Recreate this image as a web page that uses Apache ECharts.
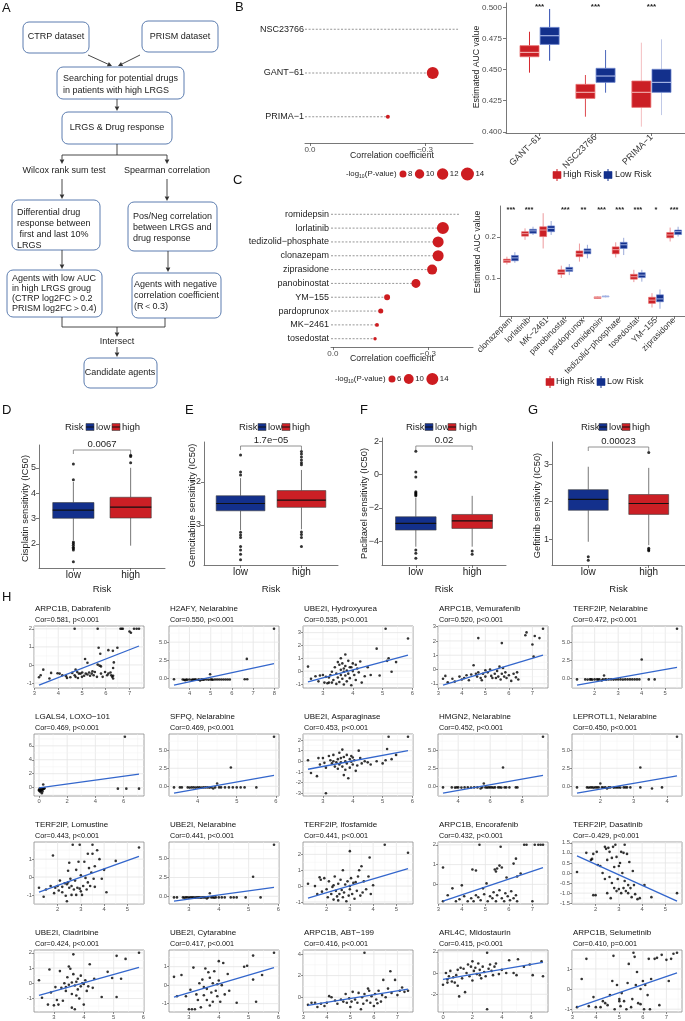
<!DOCTYPE html>
<html><head><meta charset="utf-8"><title>Drug sensitivity figure</title>
<script src="https://cdn.jsdelivr.net/npm/echarts@6/dist/echarts.min.js"></script>
<style>html,body{margin:0;padding:0;background:#fff;}#chart{width:685px;height:1021px;}</style>
</head><body><div id="chart"></div>
<script>
// ================= DATA =================
// Panel B
const bDotDrugs = ['NSC23766', 'GANT−61', 'PRIMA−1'];
const bDotCor = [-0.386, -0.320, -0.203];
const bDotLogP = [null, 12.75, 6.35];
const bSizeLegend = [8, 10, 12, 14];
const bBoxDrugs = ['GANT−61', 'NSC23766', 'PRIMA−1'];
const bHighRisk = [[0.4475,0.4603,0.4638,0.4692,0.4804],[0.4121,0.4268,0.4317,0.4381,0.4456],[0.4041,0.4196,0.4317,0.4408,0.4716]];
const bLowRisk  = [[0.4571,0.4702,0.4772,0.4839,0.4987],[0.4314,0.4397,0.4448,0.4510,0.4657],[0.4134,0.4317,0.4397,0.4502,0.4743]];
const bSig = ['***', '***', '***'];
const bYTicks = [0.400, 0.425, 0.450, 0.475, 0.500];
const bWhiskerAlpha = [1, 0.85, 0.3];

// Panel C
const cDotDrugs = ['romidepsin','lorlatinib','tedizolid−phosphate','clonazepam','ziprasidone','panobinostat','YM−155','pardoprunox','MK−2461','tosedostat'];
const cDotCor = [-0.401,-0.347,-0.332,-0.332,-0.313,-0.262,-0.171,-0.151,-0.139,-0.133];
const cDotLogP = [null, 14.0, 12.1, 12.1, 10.3, 8.7, 4.9, 4.0, 3.2, 2.85];
const cSizeLegend = [6, 10, 14];
const cBoxDrugs = ['clonazepam','lorlatinib','MK−2461','panobinostat','pardoprunox','romidepsin','tedizolid−phosphate','tosedostat','YM−155','ziprasidone'];
const cHighRisk = [[0.133,0.138,0.142,0.146,0.152],[0.193,0.202,0.208,0.213,0.221],[0.172,0.201,0.217,0.225,0.258],[0.100,0.109,0.114,0.120,0.130],[0.140,0.152,0.159,0.166,0.184],[0.049,0.050,0.052,0.054,0.055],[0.150,0.159,0.169,0.176,0.187],[0.090,0.097,0.103,0.109,0.120],[0.028,0.038,0.046,0.053,0.063],[0.189,0.198,0.205,0.211,0.223]];
const cLowRisk  = [[0.137,0.142,0.149,0.155,0.163],[0.205,0.209,0.215,0.219,0.225],[0.205,0.213,0.221,0.227,0.239],[0.107,0.116,0.120,0.126,0.134],[0.148,0.159,0.166,0.171,0.181],[0.053,0.054,0.055,0.056,0.057],[0.156,0.172,0.181,0.187,0.198],[0.091,0.101,0.107,0.113,0.120],[0.025,0.042,0.049,0.059,0.072],[0.201,0.206,0.213,0.217,0.225]];
const cSig = ['***','***','','***','**','***','***','***','*','***'];
const cYTicks = [0.1, 0.2];

// Panels D-G
const riskGroups = ['low', 'high'];
const dfgTitles = ['Cisplatin sensitivity (IC50)','Gemcitabine sensitivity (IC50)','Paclitaxel sensitivity (IC50)','Gefitinib sensitivity (IC50)'];
const cisLow = [2.15,3.01,3.33,3.63,4.44], cisHigh = [1.93,3.02,3.45,3.84,5.00];
const cisLowOut = [5.15,4.53,2.08,2.02,1.95,1.87,1.82,1.76,1.30], cisHighOut = [5.50,5.45,5.20];
const gemLow = [-3.12,-2.67,-2.50,-2.32,-1.91], gemHigh = [-3.10,-2.59,-2.42,-2.20,-1.72];
const gemLowOut = [-1.37,-1.77,-1.84,-3.17,-3.23,-3.29,-3.50,-3.58,-3.68,-3.81], gemHighOut = [-1.29,-1.35,-1.42,-1.49,-1.55,-1.60,-3.16,-3.22,-3.29,-3.50];
const pacLow = [-4.34,-3.34,-2.94,-2.54,-1.40], pacHigh = [-4.34,-3.24,-2.78,-2.40,-1.28];
const pacLowOut = [1.40,0.16,-0.14,-1.04,-1.10,-1.16,-1.22,-1.28,-4.54,-4.74,-5.04], pacHighOut = [-4.60,-4.80];
const gefLow = [0.93,1.77,2.06,2.32,2.93], gefHigh = [0.84,1.66,1.95,2.19,2.90];
const gefLowOut = [0.53,0.44], gefHighOut = [3.31,0.76,0.72,0.69];
const dfgPValues = ['0.0067', '1.7e−05', '0.02', '0.00023'];
const dfgYRange = [[1.05,5.9],[-3.93,-1.07],[-5.44,2.2],[0.31,3.59]];
const dfgYTicks = [[2,3,4,5],[-3,-2],[-4,-2,0,2],[1,2,3]];

// Panel H
const hTitles = ['ARPC1B, Dabrafenib','H2AFY, Nelarabine','UBE2I, Hydroxyurea','ARPC1B, Vemurafenib','TERF2IP, Nelarabine',
  'LGALS4, LOXO−101','SFPQ, Nelarabine','UBE2I, Asparaginase','HMGN2, Nelarabine','LEPROTL1, Nelarabine',
  'TERF2IP, Lomustine','UBE2I, Nelarabine','TERF2IP, Ifosfamide','ARPC1B, Encorafenib','TERF2IP, Dasatinib',
  'UBE2I, Cladribine','UBE2I, Cytarabine','ARPC1B, ABT−199','ARL4C, Midostaurin','ARPC1B, Selumetinib'];
const hCors = ['Cor=0.581, p<0.001','Cor=0.550, p<0.001','Cor=0.535, p<0.001','Cor=0.520, p<0.001','Cor=0.472, p<0.001',
  'Cor=0.469, p<0.001','Cor=0.469, p<0.001','Cor=0.453, p<0.001','Cor=0.452, p<0.001','Cor=0.450, p<0.001',
  'Cor=0.443, p<0.001','Cor=0.441, p<0.001','Cor=0.441, p<0.001','Cor=0.432, p<0.001','Cor=-0.429, p<0.001',
  'Cor=0.424, p<0.001','Cor=0.417, p<0.001','Cor=0.416, p<0.001','Cor=0.415, p<0.001','Cor=0.410, p=0.001'];
// regression line end points [x0, y0, x1, y1]
const hLines = [[3.19,-1.12,7.4,1.05],[3.27,-0.94,7.98,2.03],[2.5,-0.85,5.85,1.25],[3.2,-1.1,7.45,1.0],[1.25,-0.95,5.5,1.5],
  [0,-0.05,7.1,1.95],[3.4,-0.95,5.95,1.5],[2.5,-0.75,5.85,1.0],[3.05,-0.95,9.3,1.5],[1.3,-0.95,4.3,1.45],
  [1.2,-0.85,5.5,1.15],[2.5,-0.65,5.85,1.2],[1.2,-0.75,5.5,1.1],[3.2,-0.85,7.45,0.85],[1.2,0.85,5.5,-1.4],
  [2.5,-0.8,5.85,1.05],[2.5,-0.65,5.85,0.95],[3.2,-0.75,7.45,0.75],[0,-0.6,6.8,1.0],[3.2,-0.9,7.45,0.8]];
const hXTicks = [[3,4,5,6,7],[4,5,6,7,8],[3,4,5,6],[3,4,5,6,7],[2,3,4,5],
  [0,2,4,6],[4,5,6],[3,4,5,6],[4,6,8],[2,3,4],
  [2,3,4,5],[3,4,5,6],[2,3,4,5],[3,4,5,6,7],[2,3,4,5],
  [3,4,5,6],[3,4,5,6],[3,4,5,6,7],[0,2,4,6],[3,4,5,6,7]];
const hYTicks = [[-1,0,1,2],[0,2.5,5],[-1,0,1,2,3],[-1,0,1,2,3],[0,2.5,5],
  [0,2,4,6],[0,2.5,5],[-3,-2,-1,0,1,2],[0,2.5,5],[0,2.5,5],
  [-1,0,1,2],[0,2.5,5],[-1,0,1,2],[-1,0,1,2],[-1.5,-1,-0.5,0,0.5,1,1.5],
  [-1,0,1,2],[-1,0,1],[0,2,4],[-2,0,2],[-1,0,1]];

const p01 = [[4.69,2],[5.66,2],[6.62,2],[6.67,2],[6.72,2],[7.0,1.85],[7.06,1.78],[7.19,2],[7.3,2],[7.4,2],
 [5.7,0.95],[5.77,0.62],[6.11,0.82],[6.3,0.78],[6.49,0.95],[5.13,0.33],[5.23,0.12],[5.66,0.02],[5.74,-0.04],[5.8,-0.08],[6.34,0.14],[6.31,-0.17],[6.23,-0.57],
 [3.19,-0.68],[3.26,-0.57],[3.37,-0.26],[3.63,-0.75],[3.7,-0.44],[3.97,-0.46],[4.06,-0.48],[4.17,-0.57],[4.33,-0.62],[4.51,-0.68],[4.59,-0.44],[4.69,-0.57],[4.73,-0.26],[4.8,-0.39],[4.87,-0.48],[4.94,-0.48],[5.0,-0.66],[5.09,-0.6],[5.16,-0.48],[5.23,-0.53],[5.3,-0.42],[5.34,-0.6],[5.41,-0.48],[5.44,-0.35],[5.49,-0.57],[5.54,-0.39],[5.63,-0.66],[5.8,-0.48],[5.87,-0.66],[5.97,-0.39],[6.06,-0.57],[6.11,-0.48],[6.2,-0.42],[6.27,-0.66],[6.31,-0.75],[6.31,-0.6],[4.73,-0.66],[4.83,-0.72],[4.37,-0.72],[5.01,-0.42]];
const p02 = [[3.27,-0.12],[3.68,-0.15],[3.75,-0.18],[3.8,-0.25],[3.85,-0.15],[3.9,-0.18],[4.0,-0.15],[4.1,-0.22],[4.15,-0.15],[4.2,-0.18],[4.25,-0.15],[4.3,-0.15],[4.4,-0.18],[4.45,-0.15],[4.5,-0.28],[4.55,-0.15],[4.6,-0.15],[4.65,-0.18],[4.7,-0.15],[4.8,-0.15],[4.9,-0.18],[4.97,0.57],[5.0,-0.15],[5.05,-0.15],[5.1,-0.18],[5.2,-0.15],[5.3,-0.15],[5.4,-0.15],[5.5,-0.15],[5.6,-0.15],[5.7,-0.15],[5.8,-0.15],[5.9,-0.15],[6.6,-0.12],[6.72,-0.12],[6.7,2.69],[7.98,6.84]];
const p03 = [[2.5,0.35],[2.6,-0.6],[2.75,-0.4],[2.85,-0.8],[2.9,-0.35],[3.0,-0.3],[3.05,-0.9],[3.1,-0.45],[3.15,-0.95],[3.2,-0.5],[3.25,-0.3],[3.3,-0.05],[3.3,-0.9],[3.35,-0.7],[3.4,0.3],[3.45,-0.2],[3.45,-1.0],[3.5,0.7],[3.5,-0.5],[3.55,0.5],[3.55,-0.85],[3.6,1.0],[3.6,0.1],[3.6,-0.3],[3.65,0.6],[3.65,-0.6],[3.7,0.2],[3.7,-0.05],[3.7,-1.05],[3.75,1.3],[3.75,0.4],[3.75,-0.35],[3.8,0.05],[3.8,-0.8],[3.85,0.8],[3.85,-0.2],[3.9,0.3],[3.9,-0.55],[3.95,-1.1],[4.0,0.6],[4.0,0.0],[4.05,-0.3],[4.1,0.5],[4.1,-0.7],[4.15,0.2],[4.2,-0.1],[4.25,0.75],[4.3,-0.9],[4.4,-0.4],[4.5,0.3],[4.6,-0.3],[4.8,1.75],[4.9,-0.35],[5.1,3.3],[5.15,0.8],[5.2,1.0],[5.3,-0.05],[5.45,0.7],[5.85,2.55],[3.2,-0.9],[3.95,0.3]];
const p04 = [[6.7,2.4],[6.75,2.6],[7.0,1.75],[7.1,2.35],[7.3,2.2],[7.45,2.85],[7.05,0.9],[4.7,2.2],[5.7,1.85],[3.2,-0.65],[3.3,-0.45],[3.4,-0.9],[3.6,-0.65],[3.7,-0.85],[3.9,-0.5],[4.0,-0.7],[4.1,-0.6],[4.2,-0.4],[4.3,-0.75],[4.5,0.3],[4.6,-0.3],[4.65,-0.5],[4.7,-0.2],[4.8,-0.6],[4.9,-0.3],[5.0,-0.5],[5.1,-0.2],[5.2,0.0],[5.25,-0.45],[5.3,-0.6],[5.4,-0.3],[5.5,-0.1],[5.55,-0.5],[5.6,0.2],[5.65,-0.7],[5.7,-0.3],[5.8,-0.5],[5.85,-0.2],[5.9,-0.6],[6.0,-0.4],[6.1,-0.8],[6.2,-0.3],[6.3,-0.55],[6.4,-0.7],[5.0,-0.05],[4.4,-0.35],[5.75,0.1],[6.35,-0.2],[4.85,-0.75],[5.45,-0.6]];
const p05 = [[1.25,-0.15],[1.6,-0.15],[1.7,-0.18],[1.8,-0.15],[1.85,-0.15],[1.9,-0.18],[2.0,-0.15],[2.1,-0.15],[2.15,-0.18],[2.2,-0.15],[2.3,-0.3],[2.35,-0.15],[2.4,0.4],[2.45,-0.15],[2.5,-0.18],[2.6,-0.15],[2.7,-0.15],[2.8,-0.18],[2.9,-0.15],[3.0,-0.15],[3.1,-0.15],[3.2,-0.18],[3.3,-0.15],[3.4,-0.15],[3.5,-0.15],[3.6,-0.15],[3.7,-0.15],[3.8,-0.15],[3.9,-0.15],[4.0,2.6],[4.3,-0.15],[4.55,-0.15],[5.5,6.85]];
const p06 = [[0.0,-0.3],[0.05,-0.5],[0.1,-0.2],[0.1,-0.6],[0.15,-0.4],[0.2,-0.8],[0.2,-0.25],[0.25,-0.3],[0.3,0.45],[0.3,-0.2],[0.35,-0.15],[0.4,-0.1],[0.0,-0.4],[0.05,-0.15],[0.15,-0.3],[0.25,-0.55],[5.6,-0.15],[6.1,7.3],[6.2,-0.15],[7.1,-0.15]];
const p07 = [[3.4,-0.15],[3.55,-0.15],[3.6,-0.15],[3.75,-0.15],[3.8,-0.18],[3.85,-0.15],[3.9,-0.15],[3.95,-0.18],[4.0,-0.15],[4.05,-0.15],[4.1,-0.18],[4.15,-0.15],[4.2,-0.15],[4.25,-0.15],[4.3,-0.18],[4.35,-0.15],[4.4,-0.3],[4.45,-0.15],[4.5,0.4],[4.55,-0.15],[4.6,-0.15],[4.7,-0.15],[4.8,-0.15],[4.85,2.6],[4.9,-0.15],[5.0,-0.15],[5.1,-0.15],[5.2,-0.15],[5.5,-0.15],[5.95,6.85]];
const p08 = [[2.5,0.1],[2.6,-1.1],[2.8,-1.4],[2.85,0.3],[2.9,-0.3],[3.0,0.3],[3.05,-0.15],[3.1,-0.6],[3.1,-3.0],[3.2,0.5],[3.25,0.1],[3.3,-0.2],[3.35,0.6],[3.4,-0.5],[3.45,-0.1],[3.5,0.2],[3.5,-0.7],[3.55,0.8],[3.55,-0.3],[3.6,0.3],[3.6,-0.1],[3.65,1.1],[3.65,-0.5],[3.7,0.4],[3.7,-1.3],[3.75,0.0],[3.75,-0.8],[3.8,0.6],[3.8,-0.2],[3.85,-1.6],[3.9,0.2],[3.9,-0.6],[3.95,0.5],[4.0,-0.3],[4.05,0.1],[4.1,-0.9],[4.15,-0.4],[4.2,1.0],[4.25,0.3],[4.3,-0.2],[4.4,0.0],[4.5,-0.1],[4.6,-0.3],[4.8,0.0],[5.0,-0.2],[5.1,0.1],[5.15,1.15],[5.2,2.3],[5.3,0.2],[5.45,0.6],[5.85,2.3],[3.35,0.0],[3.95,-0.05],[4.0,0.35]];
const p09 = [[3.05,-0.15],[3.6,-0.15],[3.8,-0.18],[3.9,-0.15],[4.0,-0.15],[4.2,-0.18],[4.4,-0.15],[4.6,-0.15],[4.8,-0.18],[5.0,-0.15],[5.2,-0.15],[5.4,-0.3],[5.5,-0.15],[5.6,0.4],[5.7,-0.15],[5.8,-0.18],[5.9,-0.15],[6.0,-0.15],[6.1,-0.15],[6.2,-0.18],[6.3,-0.15],[6.5,-0.15],[6.6,-0.15],[6.7,-0.18],[6.8,2.6],[6.9,-0.15],[7.0,-0.15],[7.2,-0.15],[7.6,-0.15],[7.7,-0.15],[9.3,6.85]];
const p10 = [[1.3,-0.15],[1.6,-0.15],[1.65,-0.18],[1.7,-0.15],[1.75,-0.15],[1.8,-0.18],[1.85,-0.15],[1.9,-0.15],[1.95,-0.15],[2.0,0.4],[2.05,-0.15],[2.1,-0.18],[2.15,-0.15],[2.2,-0.3],[2.25,-0.15],[2.3,-0.15],[2.4,-0.18],[2.45,-0.15],[2.5,-0.15],[2.55,-0.15],[2.6,-0.18],[2.7,-0.15],[2.75,-0.15],[2.8,-0.15],[2.9,-0.15],[3.2,2.6],[3.2,-0.15],[3.55,-0.3],[3.85,-0.15],[4.3,6.85]];
const p11 = [[1.2,-0.6],[1.4,-1.1],[1.5,-0.7],[1.7,-0.5],[1.8,1.2],[1.85,-0.9],[1.9,-0.6],[2.0,-0.5],[2.05,-0.75],[2.1,-0.2],[2.2,-0.55],[2.3,-0.35],[2.35,-1.05],[2.4,-0.4],[2.4,-1.35],[2.45,-0.3],[2.45,0.35],[2.5,0.8],[2.5,-0.6],[2.55,-0.1],[2.6,-0.5],[2.6,-1.0],[2.65,1.8],[2.7,-0.7],[2.75,-0.2],[2.8,0.4],[2.8,-1.0],[2.85,-0.6],[2.9,0.85],[2.95,-0.65],[2.95,1.8],[3.0,-0.8],[3.0,0.1],[3.05,-1.0],[3.1,-0.5],[3.15,0.85],[3.2,-0.05],[3.25,-0.7],[3.3,1.3],[3.3,-0.3],[3.35,0.5],[3.4,-0.5],[3.45,0.25],[3.5,1.8],[3.55,-0.1],[3.6,0.6],[3.6,-0.55],[3.7,1.5],[3.8,1.0],[3.9,-0.1],[4.0,0.4],[4.1,-0.85],[4.5,0.9],[5.5,1.65],[2.2,-0.85],[3.5,1.3]];
const p12 = [[2.5,-0.15],[2.6,-0.15],[2.8,-0.15],[2.85,-0.18],[2.9,-0.15],[2.95,-0.15],[3.0,-0.18],[3.05,-0.15],[3.1,-0.15],[3.15,-0.15],[3.2,-0.18],[3.25,-0.15],[3.3,-0.15],[3.35,-0.15],[3.4,-0.18],[3.45,-0.15],[3.5,-0.15],[3.55,-0.15],[3.6,-0.3],[3.65,-0.15],[3.7,0.4],[3.75,-0.15],[3.8,-0.15],[3.85,-0.18],[3.9,-0.15],[4.0,-0.15],[4.1,-0.15],[4.2,-0.15],[4.4,-0.15],[4.5,-0.15],[4.6,-0.15],[4.9,-0.15],[5.15,2.6],[5.4,-0.15],[5.85,6.85]];
const p13 = [[1.2,0.15],[1.5,0.0],[1.6,-0.5],[1.7,0.55],[1.75,0.4],[1.8,-0.35],[1.9,0.5],[2.0,-0.2],[2.05,-0.7],[2.1,0.3],[2.2,-0.5],[2.25,-0.05],[2.3,-0.85],[2.35,0.6],[2.4,-0.3],[2.45,-0.65],[2.5,0.15],[2.5,-0.9],[2.55,-0.5],[2.6,0.4],[2.65,-0.25],[2.7,1.0],[2.7,-0.7],[2.75,-0.4],[2.8,0.1],[2.85,-0.95],[2.9,0.3],[2.95,-0.6],[3.0,2.2],[3.0,-0.2],[3.05,0.5],[3.1,-0.5],[3.15,0.2],[3.2,-0.8],[3.25,0.25],[3.3,-0.3],[3.35,0.6],[3.4,1.0],[3.45,-0.6],[3.5,1.25],[3.55,-0.4],[3.6,0.3],[3.7,-0.2],[3.8,0.6],[3.85,1.8],[3.9,-0.5],[4.0,0.05],[4.5,2.6],[5.5,2.1],[2.3,0.05],[3.0,0.0]];
const p14 = [[4.75,2],[5.65,1.9],[6.65,2],[6.75,2],[7.1,2],[7.25,2],[7.35,2],[7.45,2],[3.2,0.85],[4.45,0.75],[4.6,0.7],[5.4,0.75],[5.45,0.65],[5.5,0.8],[5.6,0.95],[5.7,0.85],[6.3,1.3],[6.2,1.05],[6.5,0.55],[6.35,0.4],[5.9,0.35],[5.05,0.05],[4.9,-0.2],[3.4,-0.55],[3.6,-0.2],[4.0,-0.05],[3.9,-0.75],[4.1,-0.6],[4.25,-0.85],[4.4,-0.7],[4.5,-0.85],[4.6,-0.55],[4.7,-0.65],[4.8,-0.8],[4.95,-0.5],[5.1,-0.85],[5.2,-0.6],[5.3,-0.7],[5.35,-0.4],[5.45,-0.85],[5.5,-0.55],[5.6,-0.3],[5.7,-0.7],[5.8,-0.85],[5.85,-0.45],[5.95,-0.6],[6.05,-0.8],[6.1,-0.35],[6.2,-0.7],[6.3,-0.55],[6.35,-0.85],[7.0,-0.85],[3.2,-0.85],[3.75,-0.85]];
const p15 = [[1.2,0.05],[1.6,1.0],[1.8,0.65],[1.85,0.7],[1.9,0.95],[1.9,-1.1],[2.0,-1.1],[2.05,1.05],[2.1,0.4],[2.2,0.35],[2.3,0.0],[2.4,1.3],[2.45,1.2],[2.5,-1.0],[2.5,0.65],[2.55,1.25],[2.6,-0.2],[2.6,1.05],[2.65,-1.25],[2.7,0.75],[2.7,-0.5],[2.75,1.3],[2.8,-0.75],[2.8,0.3],[2.85,1.4],[2.9,-0.9],[2.9,0.8],[2.95,-0.3],[3.0,-0.8],[3.05,0.5],[3.1,1.05],[3.1,-1.0],[3.15,0.0],[3.2,1.0],[3.2,-0.75],[3.25,1.4],[3.3,-0.9],[3.35,0.95],[3.4,-1.0],[3.4,-0.6],[3.45,0.55],[3.5,-0.75],[3.55,-1.2],[3.6,0.1],[3.65,-0.6],[3.7,-1.05],[3.8,-1.3],[3.9,-1.25],[4.1,-0.6],[4.4,-1.2],[5.5,-1.0],[2.4,-0.3],[3.0,0.35],[3.25,-0.4]];
const p16 = [[2.5,0.2],[2.6,-0.95],[2.8,-1.4],[2.85,0.9],[2.9,-0.6],[3.0,-1.45],[3.05,-0.25],[3.1,-1.1],[3.15,-1.4],[3.2,0.8],[3.25,-0.3],[3.3,-1.15],[3.35,0.0],[3.4,-0.5],[3.45,0.4],[3.5,1.1],[3.5,-0.1],[3.55,0.95],[3.6,-0.7],[3.6,-1.6],[3.65,0.6],[3.65,1.9],[3.7,-0.15],[3.7,-1.7],[3.75,0.1],[3.75,-0.8],[3.8,0.3],[3.8,-0.4],[3.85,-1.0],[3.9,0.5],[3.9,-0.2],[3.95,0.0],[4.0,-1.4],[4.05,0.2],[4.1,-0.5],[4.15,-0.2],[4.2,1.25],[4.3,-0.3],[4.35,0.3],[4.6,-0.9],[4.8,0.75],[4.95,0.35],[5.1,1.8],[5.1,-0.9],[5.25,0.3],[5.4,1.6],[5.85,2.0],[3.4,-0.25],[3.6,0.05],[4.0,-0.05]];
const p17 = [[2.5,0.45],[2.6,-0.6],[2.75,0.55],[2.9,-0.6],[3.0,-1.3],[3.05,-0.25],[3.1,-1.3],[3.15,0.95],[3.2,-1.3],[3.25,-0.5],[3.3,-0.8],[3.35,0.1],[3.4,-1.2],[3.45,0.3],[3.5,-0.55],[3.55,0.9],[3.6,-0.2],[3.6,-0.8],[3.65,0.7],[3.7,-1.1],[3.7,0.4],[3.75,-0.4],[3.8,0.1],[3.8,-0.9],[3.85,0.75],[3.9,-0.3],[3.95,-0.6],[4.0,0.25],[4.0,1.3],[4.05,-0.9],[4.1,0.0],[4.15,1.2],[4.2,-0.5],[4.3,0.6],[4.35,-0.3],[4.6,-0.95],[4.85,1.0],[4.95,1.05],[5.15,1.6],[5.15,0.3],[5.25,-0.9],[5.45,0.55],[5.85,1.75],[3.5,-0.1],[3.95,0.05]];
const p18 = [[3.2,-0.7],[3.35,-0.5],[3.5,-0.5],[3.6,-0.9],[3.75,-0.6],[4.0,-0.5],[4.1,0.1],[4.2,0.0],[4.35,-0.3],[4.45,-0.6],[4.6,-0.2],[4.7,-0.4],[4.8,0.3],[4.85,-0.5],[4.95,-0.1],[5.05,-0.4],[5.1,0.5],[5.2,-0.2],[5.3,-0.5],[5.35,0.4],[5.45,-1.1],[5.5,0.0],[5.55,-0.6],[5.6,4.1],[5.6,0.3],[5.7,-0.3],[5.75,0.8],[5.8,0.6],[5.85,-0.5],[5.9,0.1],[6.0,-0.8],[6.05,0.3],[6.1,-0.2],[6.2,0.6],[6.3,-0.4],[6.35,0.2],[6.4,1.6],[6.5,0.0],[6.6,0.8],[6.7,2.4],[6.75,0.4],[6.9,1.6],[7.0,0.2],[7.1,0.6],[7.2,0.9],[7.3,0.5],[7.45,0.6],[3.9,-0.8],[5.0,-0.9],[6.15,-0.55]];
const p19 = [[0.0,-1.1],[0.2,0.0],[0.3,-0.6],[0.4,-0.3],[0.5,0.2],[0.6,-0.8],[0.7,-0.4],[0.8,-0.9],[0.9,-0.2],[1.0,0.3],[1.0,-1.2],[1.1,-2.2],[1.2,0.5],[1.3,-0.5],[1.4,0.4],[1.5,-1.8],[1.6,0.0],[1.7,0.8],[1.8,-0.3],[1.9,0.6],[2.0,1.1],[2.0,-0.7],[2.1,0.2],[2.2,0.5],[2.3,-0.1],[2.4,0.9],[2.5,0.3],[2.6,-0.5],[2.7,0.6],[2.8,0.1],[2.9,-0.3],[3.0,1.9],[3.0,-3.4],[3.1,0.4],[3.2,0.8],[3.3,0.2],[3.4,-0.2],[3.5,0.6],[3.6,0.9],[3.8,-0.1],[4.0,0.3],[4.3,0.0],[4.5,1.2],[4.8,0.0],[5.0,-0.2],[5.1,1.3],[5.5,0.6],[5.9,0.8],[6.1,-0.2],[6.7,1.1],[6.8,-0.3],[0.3,-0.9],[2.5,-0.2]];
const p20 = [[3.2,-0.9],[3.4,0.5],[3.6,1.5],[3.7,-0.85],[3.9,-0.4],[4.0,-0.9],[4.2,-0.9],[4.3,-0.6],[4.5,-0.8],[4.6,-0.3],[4.7,0.4],[4.75,1.65],[4.8,-1.0],[4.9,0.2],[5.0,-0.6],[5.05,-0.85],[5.1,-0.2],[5.2,-0.6],[5.3,-1.0],[5.35,0.3],[5.4,1.25],[5.5,-0.9],[5.55,-0.5],[5.6,1.8],[5.65,1.6],[5.7,0.2],[5.75,0.85],[5.8,-0.7],[5.9,0.0],[6.0,0.4],[6.05,-1.0],[6.1,0.2],[6.2,-0.3],[6.25,1.5],[6.3,-1.0],[6.35,0.5],[6.5,1.5],[6.6,1.55],[6.7,-0.8],[6.8,1.7],[7.0,1.45],[7.1,0.4],[7.2,1.5],[7.3,1.75],[7.45,1.8],[5.0,-0.5],[4.4,-0.7],[5.9,-0.75]];
const hPoints = [p01,p02,p03,p04,p05,p06,p07,p08,p09,p10,p11,p12,p13,p14,p15,p16,p17,p18,p19,p20];

// ================= BUILD =================
const FONT = '"Liberation Sans", Arial, Helvetica, sans-serif';
const RED = '#CB1F25', BLUE = '#13308C', DOTRED = '#CD1C20';
const chart = echarts.init(document.getElementById('chart'), null, {width: 685, height: 1021});
const grid = [], xAxis = [], yAxis = [], series = [], graphic = [];
const _ctx = document.createElement('canvas').getContext('2d');
function tw(s, size) { _ctx.font = size + 'px ' + FONT; return _ctx.measureText(s).width; }
function merge(a, b) { const o = Object.assign({}, a); for (const k in b) { const v = b[k]; if (v && typeof v === 'object' && !Array.isArray(v) && a[k] && typeof a[k] === 'object') o[k] = merge(a[k], v); else o[k] = v; } return o; }
const baseAxis = {type: 'value', splitLine: {show: false},
  axisLine: {show: true, onZero: false, lineStyle: {color: '#555', width: 0.8}},
  axisTick: {show: true, length: 3, lineStyle: {color: '#555', width: 0.8}},
  axisLabel: {fontFamily: FONT, fontSize: 8, color: '#4D4D4D', margin: 3}};
function addGrid(rect, xa, ya) {
  const i = grid.length;
  grid.push(Object.assign({outerBoundsMode: 'none', containLabel: false}, rect));
  xAxis.push(merge(baseAxis, Object.assign({gridIndex: i}, xa)));
  yAxis.push(merge(baseAxis, Object.assign({gridIndex: i}, ya)));
  return i;
}
function T(x, y, text, o) {
  o = o || {};
  const el = {type: 'text', x: x, y: y, silent: true, z: 50, style: {text: text, fontFamily: FONT, fontSize: o.size || 9, fill: o.color || '#222', align: o.align || 'left', verticalAlign: o.va || 'middle', fontWeight: o.weight || 'normal'}};
  if (o.rot) el.rotation = o.rot;
  return el;
}
function L(x1, y1, x2, y2, c, w) { return {type: 'line', silent: true, z: 50, shape: {x1, y1, x2, y2}, style: {stroke: c || '#333', lineWidth: w || 0.9}}; }
function arrow(x1, y1, x2, y2) {
  const a = Math.atan2(y2 - y1, x2 - x1), Ln = 4.5, W = 2.3;
  const bx = x2 - Ln * Math.cos(a), by = y2 - Ln * Math.sin(a);
  return [L(x1, y1, bx, by), {type: 'polygon', silent: true, z: 50, shape: {points: [[x2, y2], [bx + W * Math.sin(a), by - W * Math.cos(a)], [bx - W * Math.sin(a), by + W * Math.cos(a)]]}, style: {fill: '#333'}}];
}
function RR(x, y, w, h) { return {type: 'rect', silent: true, z: 49, shape: {x, y, width: w, height: h, r: 6}, style: {fill: '#fff', stroke: '#5C7DB0', lineWidth: 1}}; }
const minus = s => String(s).replace('-', '−');

// ---------- Panel letters ----------
[['A', 2, 8], ['B', 235, 7], ['C', 233, 180], ['D', 2, 410], ['E', 185, 410], ['F', 360, 410], ['G', 528, 410], ['H', 2, 597]]
  .forEach(p => graphic.push(T(p[1], p[2], p[0], {size: 13, color: '#111'})));

// ---------- Panel A flowchart ----------
graphic.push(RR(23, 22, 66, 31), T(56, 37, 'CTRP dataset', {align: 'center'}));
graphic.push(RR(142, 21, 76, 31), T(180, 37, 'PRISM dataset', {align: 'center'}));
graphic.push(RR(57, 67, 127, 32), T(63, 79, 'Searching for potential drugs'), T(63, 91, 'in patients with high LRGS'));
graphic.push(RR(62, 112, 110, 32), T(117, 128, 'LRGS & Drug response', {align: 'center'}));
graphic.push(...arrow(88, 55, 112, 66), ...arrow(140, 55, 118, 66), ...arrow(117, 99, 117, 111));
graphic.push(L(117, 144, 117, 155), L(62, 155, 167, 155), ...arrow(62, 155, 62, 164), ...arrow(167, 155, 167, 164));
graphic.push(T(64, 171, 'Wilcox rank sum test', {align: 'center'}), T(167, 171, 'Spearman correlation', {align: 'center'}));
graphic.push(...arrow(62, 179, 62, 199), ...arrow(167, 179, 167, 201));
graphic.push(RR(12, 200, 88, 50), T(17, 213, 'Differential drug'), T(17, 224, 'response between'), T(17, 235, ' first and last 10%'), T(17, 246, 'LRGS'));
graphic.push(RR(128, 202, 89, 49), T(133, 217, 'Pos/Neg correlation'), T(133, 228, 'between LRGS and'), T(133, 239, 'drug response'));
graphic.push(...arrow(62, 250, 62, 269), ...arrow(168, 251, 168, 272));
graphic.push(RR(7, 270, 95, 47), T(12, 279, 'Agents with low AUC'), T(12, 289, 'in high LRGS groug'), T(12, 299, '(CTRP log2FC＞0.2'), T(12, 309, 'PRISM log2FC＞0.4)'));
graphic.push(RR(132, 273, 89, 45), T(134, 285, 'Agents with negative'), T(134, 296, 'correlation coefficient'), T(134, 307, '(R＜0.3)'));
graphic.push(L(62, 317, 62, 327), L(165, 318, 165, 327), L(62, 327, 165, 327), ...arrow(117, 327, 117, 337));
graphic.push(T(117, 342, 'Intersect', {align: 'center'}), ...arrow(117, 347, 117, 357));
graphic.push(RR(84, 358, 73, 30), T(120, 373, 'Candidate agents', {align: 'center'}));

// ---------- helpers for series ----------
function lollipop(gi, cors, logps, xStart, rfun) {
  return {type: 'custom', xAxisIndex: gi, yAxisIndex: gi, clip: false, z: 3, silent: true,
    data: cors.map((c, i) => [c, i + 1]),
    renderItem(p, api) {
      const y = api.value(1), c = api.value(0);
      const a = api.coord([xStart, y]), b = api.coord([c, y]);
      const ch = [{type: 'line', shape: {x1: a[0], y1: a[1], x2: b[0], y2: b[1]}, style: {stroke: '#6A6A6A', lineWidth: 0.7, lineDash: [2, 1.6]}}];
      const lp = logps[p.dataIndex];
      if (lp != null) ch.push({type: 'circle', shape: {cx: b[0], cy: b[1], r: rfun(lp)}, style: {fill: DOTRED}});
      return {type: 'group', children: ch};
    }};
}
function boxSeries(gi, data, styleFn, widthUnits) {
  return {type: 'custom', xAxisIndex: gi, yAxisIndex: gi, clip: false, z: 3, silent: true, data: data,
    renderItem(p, api) {
      const x = api.value(0);
      const P = k => api.coord([x, api.value(k)]);
      const lo = P(1), q1 = P(2), md = P(3), q3 = P(4), hi = P(5);
      const w = api.size([widthUnits, 0])[0] / 2;
      const s = styleFn(p.dataIndex);
      const cx = md[0];
      return {type: 'group', children: [
        {type: 'line', shape: {x1: cx, y1: hi[1], x2: cx, y2: q3[1]}, style: {stroke: s.whisker, lineWidth: s.wlw || 1}},
        {type: 'line', shape: {x1: cx, y1: q1[1], x2: cx, y2: lo[1]}, style: {stroke: s.whisker, lineWidth: s.wlw || 1}},
        {type: 'rect', shape: {x: cx - w, y: q3[1], width: 2 * w, height: Math.max(0.8, q1[1] - q3[1])}, style: {fill: s.fill, stroke: s.stroke, lineWidth: s.lw || 0.8}},
        {type: 'line', shape: {x1: cx - w, y1: md[1], x2: cx + w, y2: md[1]}, style: {stroke: s.median, lineWidth: s.mlw || 1.1}}
      ]};
    }};
}
function textSeries(gi, labels, yVal, dy, o) {
  return {type: 'custom', xAxisIndex: gi, yAxisIndex: gi, clip: false, z: 4, silent: true,
    data: labels.map((s, i) => [i + 1, yVal]),
    renderItem(p, api) {
      const pt = api.coord([api.value(0), api.value(1)]);
      return {type: 'text', x: pt[0], y: pt[1] + dy, style: {text: labels[p.dataIndex], fontFamily: FONT, fontSize: o.size, fontWeight: o.weight || 'normal', fill: '#222', align: 'center', verticalAlign: 'middle'}};
    }};
}
function bcStyle(risk, alpha) {
  return risk === 0
    ? {fill: RED, stroke: 'rgba(232,110,110,0.95)', median: '#F3B1B1', whisker: 'rgba(214,40,46,' + alpha + ')'}
    : {fill: BLUE, stroke: 'rgba(105,130,205,0.95)', median: '#AFBDEB', whisker: 'rgba(45,75,175,' + alpha + ')'};
}
function legendKey(x, y, color, horiz) {
  const els = [{type: 'rect', silent: true, z: 50, shape: {x: x, y: y - 3.5, width: 8, height: 7}, style: {fill: color, stroke: horiz ? '#444' : color, lineWidth: 0.6}}];
  if (horiz) { els.push(L(x, y, x + 8, y, '#111', 1)); }
  else { els.push(L(x + 4, y - 6, x + 4, y + 6, color, 1)); }
  return els;
}
function sizeLegend(x, y, vals, rfun) {
  const fs = 7.8, w1 = tw('-log', fs), w2 = tw('10', 5);
  graphic.push(T(x, y, '-log', {size: fs}), T(x + w1, y + 2.5, '10', {size: 5}), T(x + w1 + w2 + 0.3, y, '(P-value)', {size: fs}));
  let cx = x + w1 + w2 + 0.3 + tw('(P-value)', fs) + 3;
  vals.forEach(v => {
    const r = rfun(v);
    cx += r;
    graphic.push({type: 'circle', silent: true, z: 50, shape: {cx: cx, cy: y, r: r}, style: {fill: DOTRED}});
    cx += r + 1.5;
    graphic.push(T(cx, y, String(v), {size: fs}));
    cx += tw(String(v), fs) + 2.5;
  });
}
const rB = v => Math.sqrt(Math.max(0, -27.75 + 5 * v));
const rC = v => Math.sqrt(Math.max(0, -5.56 + 2.97 * v));
const fmt1 = v => minus((Math.round(v * 10) / 10).toFixed(1));

// ---------- Panel B ----------
const gBDot = addGrid({left: 305, top: 3, width: 168, height: 140},
  {min: -0.425, max: 0.013, inverse: true, axisLabel: {customValues: [0, -0.3], formatter: fmt1}, axisTick: {customValues: [0, -0.3]}},
  {min: 0.4, max: 3.6, inverse: true, axisLine: {show: false}, axisTick: {show: false},
   axisLabel: {customValues: [1, 2, 3], formatter: v => bDotDrugs[Math.round(v) - 1], fontSize: 9, color: '#222', margin: 1}});
series.push(lollipop(gBDot, bDotCor, bDotLogP, 0.013, rB));
graphic.push(T(392, 156, 'Correlation coefficient', {size: 8.7, align: 'center'}));
sizeLegend(346, 174, bSizeLegend, rB);

const gBBox = addGrid({left: 506, top: 3, width: 179, height: 130},
  {min: 0.4, max: 3.6, axisLabel: {customValues: [1, 2, 3], formatter: v => bBoxDrugs[Math.round(v) - 1], rotate: 45, fontSize: 9, color: '#333', margin: 3}, axisTick: {customValues: [1, 2, 3]}},
  {min: 0.399, max: 0.5035, axisLabel: {customValues: bYTicks, formatter: v => v.toFixed(3), margin: 4}, axisTick: {customValues: bYTicks}});
const bBoxData = [];
bBoxDrugs.forEach((d, i) => { bBoxData.push([i + 1 - 0.18, ...bHighRisk[i], 0, i]); bBoxData.push([i + 1 + 0.18, ...bLowRisk[i], 1, i]); });
series.push(boxSeries(gBBox, bBoxData, idx => bcStyle(bBoxData[idx][6], bWhiskerAlpha[bBoxData[idx][7]]), 0.34));
series.push(textSeries(gBBox, bSig, 0.5035, 4, {size: 8, weight: 'bold'}));
graphic.push(T(477, 67, 'Estimated AUC value', {size: 8.7, align: 'center', rot: Math.PI / 2}));
graphic.push(...legendKey(553, 175, RED, false), T(563, 175, 'High Risk', {size: 9}), ...legendKey(604, 175, BLUE, false), T(615, 175, 'Low Risk', {size: 9}));

// ---------- Panel C ----------
const gCDot = addGrid({left: 331, top: 206, width: 142, height: 141},
  {min: -0.442, max: 0.006, inverse: true, axisLabel: {customValues: [0, -0.3], formatter: fmt1}, axisTick: {customValues: [0, -0.3]}},
  {min: 0.4, max: 10.6, inverse: true, axisLine: {show: false}, axisTick: {show: false},
   axisLabel: {customValues: [1,2,3,4,5,6,7,8,9,10], formatter: v => cDotDrugs[Math.round(v) - 1], fontSize: 9, color: '#222', margin: 2}});
series.push(lollipop(gCDot, cDotCor, cDotLogP, 0.006, rC));
graphic.push(T(392, 359, 'Correlation coefficient', {size: 8.7, align: 'center'}));
sizeLegend(335, 379, cSizeLegend, rC);

const cTicks = [1,2,3,4,5,6,7,8,9,10];
const gCBox = addGrid({left: 500, top: 206, width: 185, height: 110},
  {min: 0.4, max: 10.6, axisLabel: {customValues: cTicks, formatter: v => cBoxDrugs[Math.round(v) - 1], rotate: 45, fontSize: 8.5, color: '#333', margin: 3}, axisTick: {customValues: cTicks}},
  {min: 0.0073, max: 0.2756, axisLabel: {customValues: cYTicks, formatter: v => v.toFixed(1), margin: 4}, axisTick: {customValues: cYTicks}});
const cBoxData = [];
cBoxDrugs.forEach((d, i) => { cBoxData.push([i + 1 - 0.22, ...cHighRisk[i], 0, i]); cBoxData.push([i + 1 + 0.22, ...cLowRisk[i], 1, i]); });
series.push(boxSeries(gCBox, cBoxData, idx => Object.assign(bcStyle(cBoxData[idx][6], 0.6), {lw: 0.6, mlw: 0.9, wlw: 0.8}), 0.38));
series.push(textSeries(gCBox, cSig, 0.2756, 4, {size: 7.5, weight: 'bold'}));
graphic.push(T(478, 252, 'Estimated AUC value', {size: 8.7, align: 'center', rot: Math.PI / 2}));
graphic.push(...legendKey(546, 382, RED, false), T(556, 382, 'High Risk', {size: 9}), ...legendKey(597, 382, BLUE, false), T(607, 382, 'Low Risk', {size: 9}));

// ---------- Panels D-G ----------
const dfgBoxes = [[cisLow, cisHigh], [gemLow, gemHigh], [pacLow, pacHigh], [gefLow, gefHigh]];
const dfgOut = [[cisLowOut, cisHighOut], [gemLowOut, gemHighOut], [pacLowOut, pacHighOut], [gefLowOut, gefHighOut]];
const dfgGrid = [{left: 39, top: 445, width: 126, height: 123}, {left: 204, top: 442, width: 134, height: 123}, {left: 382, top: 438, width: 124, height: 127}, {left: 552, top: 442, width: 133, height: 123}];
const dfgBoxW = [0.72, 0.8, 0.72, 0.66];
const dfgBracketOff = [5, 4, 8, 5];
const dfgYTitleX = [25, 192, 364, 537];
const dfgLegend = [[65, 86, 96, 112, 122], [239, 258, 268, 282, 292], [406, 425, 435, 448, 459], [581, 599, 609, 622, 632]];
dfgBoxes.forEach((bx, k) => {
  const yr = dfgYRange[k], yt = dfgYTicks[k];
  const gi = addGrid(dfgGrid[k],
    {min: 0.4, max: 2.6, axisLabel: {customValues: [1, 2], formatter: v => riskGroups[Math.round(v) - 1], fontSize: 10, color: '#222', margin: 2}, axisTick: {customValues: [1, 2]}},
    {min: yr[0], max: yr[1], axisLabel: {customValues: yt, formatter: v => minus(v), fontSize: 9, color: '#333', margin: 3}, axisTick: {customValues: yt}});
  const data = [[1, ...bx[0]], [2, ...bx[1]]];
  series.push(boxSeries(gi, data, idx => ({fill: idx === 0 ? BLUE : RED, stroke: '#3C3C3C', lw: 0.6, median: '#111', mlw: 1.2, whisker: '#555', wlw: 0.8}), dfgBoxW[k]));
  const out = [];
  dfgOut[k][0].forEach(v => out.push([1, v]));
  dfgOut[k][1].forEach(v => out.push([2, v]));
  series.push({type: 'scatter', xAxisIndex: gi, yAxisIndex: gi, data: out, symbolSize: 3, itemStyle: {color: '#000'}, z: 4, silent: true});
  const off = dfgBracketOff[k], lab = dfgPValues[k];
  series.push({type: 'custom', xAxisIndex: gi, yAxisIndex: gi, clip: false, z: 4, silent: true, data: [[1, 2]],
    renderItem(p, api) {
      const a = api.coord([api.value(0), yr[1]]), b = api.coord([api.value(1), yr[1]]);
      const y = a[1] + off;
      return {type: 'group', children: [
        {type: 'polyline', shape: {points: [[a[0], y + 4], [a[0], y], [b[0], y], [b[0], y + 4]]}, style: {stroke: '#777', lineWidth: 0.8, fill: null}},
        {type: 'text', x: (a[0] + b[0]) / 2, y: y - 0.5, style: {text: lab, fontFamily: FONT, fontSize: 9.5, fill: '#222', align: 'center', verticalAlign: 'bottom'}}
      ]};
    }});
  const g = dfgGrid[k];
  graphic.push(T(dfgYTitleX[k], g.top + g.height / 2 + 2, dfgTitles[k], {size: 9.3, align: 'center', rot: Math.PI / 2}));
  graphic.push(T(g.left + g.width / 2, 589, 'Risk', {size: 9.5, align: 'center'}));
  const lg = dfgLegend[k], ly = 427;
  graphic.push(T(lg[0], ly, 'Risk', {size: 9.5}), ...legendKey(lg[1], ly, BLUE, true), T(lg[2], ly, 'low', {size: 9.5}), ...legendKey(lg[3], ly, RED, true), T(lg[4], ly, 'high', {size: 9.5}));
});

// ---------- Panel H ----------
const hLeft = [34, 169, 303, 438, 572], hTop = [626, 734, 842, 950], hW = 110, hH = 62;
function rng(pts, line, ax) {
  let lo = Math.min(line[ax], line[ax + 2]), hi = Math.max(line[ax], line[ax + 2]);
  pts.forEach(p => { lo = Math.min(lo, p[ax]); hi = Math.max(hi, p[ax]); });
  const e = (hi - lo) * 0.05;
  return [lo - e, hi + e];
}
function minors(t, r) {
  const s = t.length > 1 ? t[1] - t[0] : 1, out = [];
  for (let v = t[0] - s / 2; v <= r[1]; v += s) if (v >= r[0]) out.push(v);
  return out;
}
const tickFmt = t => { const d = t.some(v => Math.abs(v % 1) > 1e-9) ? 1 : 0; return v => (Math.round(v * 10) / 10).toFixed(d); };
hPoints.forEach((pts, k) => {
  const col = k % 5, row = Math.floor(k / 5);
  const left = hLeft[col], top = hTop[row];
  const line = hLines[k];
  const xr = rng(pts, line, 0), yr = rng(pts, line, 1);
  const xt = hXTicks[k], yt = hYTicks[k];
  const gi = addGrid({left: left, top: top, width: hW, height: hH, show: true, borderColor: '#8A8A8A', borderWidth: 0.8, backgroundColor: '#fff'},
    {min: xr[0], max: xr[1], axisLine: {show: false}, axisTick: {customValues: xt, length: 2, lineStyle: {color: '#444', width: 0.6}}, axisLabel: {customValues: xt, formatter: tickFmt(xt), fontSize: 5.8, color: '#555', margin: 2}},
    {min: yr[0], max: yr[1], axisLine: {show: false}, axisTick: {customValues: yt, length: 2, lineStyle: {color: '#444', width: 0.6}}, axisLabel: {customValues: yt, formatter: tickFmt(yt), fontSize: 5.8, color: '#555', margin: 2}});
  const gl = [];
  xt.forEach(v => { if (v >= xr[0] && v <= xr[1]) gl.push([0, v, 0]); });
  minors(xt, xr).forEach(v => gl.push([0, v, 1]));
  yt.forEach(v => { if (v >= yr[0] && v <= yr[1]) gl.push([1, v, 0]); });
  minors(yt, yr).forEach(v => gl.push([1, v, 1]));
  series.push({type: 'custom', xAxisIndex: gi, yAxisIndex: gi, z: 1, silent: true, clip: true, data: gl,
    renderItem(p, api) {
      const t = api.value(0), v = api.value(1), mi = api.value(2), cs = p.coordSys;
      let shape;
      if (t === 0) { const x = api.coord([v, yr[0]])[0]; shape = {x1: x, y1: cs.y, x2: x, y2: cs.y + cs.height}; }
      else { const y = api.coord([xr[0], v])[1]; shape = {x1: cs.x, y1: y, x2: cs.x + cs.width, y2: y}; }
      return {type: 'line', shape: shape, style: {stroke: mi ? '#F2F2F2' : '#E4E4E4', lineWidth: mi ? 0.5 : 0.8}};
    }});
  series.push({type: 'scatter', xAxisIndex: gi, yAxisIndex: gi, data: pts, symbolSize: 2.6, itemStyle: {color: '#000'}, z: 3, silent: true});
  series.push({type: 'line', xAxisIndex: gi, yAxisIndex: gi, data: [[line[0], line[1]], [line[2], line[3]]], symbol: 'none', lineStyle: {color: '#3366CC', width: 1.3}, z: 4, silent: true});
  graphic.push(T(left + 1, top - 17, hTitles[k], {size: 8, color: '#111'}), T(left + 1, top - 6, hCors[k], {size: 7.2, color: '#111'}));
});

chart.setOption({animation: false, backgroundColor: '#fff', grid: grid, xAxis: xAxis, yAxis: yAxis, series: series, graphic: {elements: graphic}});
</script></body></html>
